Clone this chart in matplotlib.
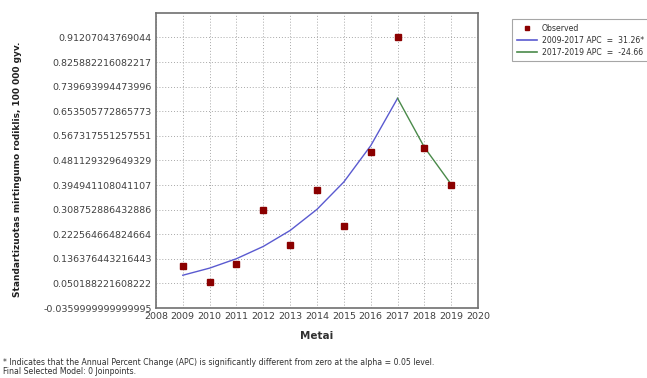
import matplotlib
matplotlib.use("Agg")
import matplotlib.pyplot as plt
from matplotlib.lines import Line2D

years = [2009, 2010, 2011, 2012, 2013, 2014, 2015, 2016, 2017, 2018, 2019]
observed = [0.112, 0.054, 0.118, 0.307, 0.184, 0.377, 0.251, 0.512, 0.912, 0.525, 0.395]

seg1_years = [2009, 2010, 2011, 2012, 2013, 2014, 2015, 2016, 2017]
seg1_fit = [0.079, 0.104, 0.137, 0.180, 0.236, 0.310, 0.406, 0.533, 0.699]
seg2_years = [2017, 2018, 2019]
seg2_fit = [0.699, 0.527, 0.397]

ytick_labels = ["-0.0359999999999995", "0.050188221608222", "0.136376443216443",
                "0.222564664824664", "0.308752886432886", "0.394941108041107",
                "0.481129329649329", "0.567317551257551", "0.653505772865773",
                "0.739693994473996", "0.825882216082217", "0.91207043769044"]
xticks = list(range(2008, 2021))

legend_labels = ["Observed", "2009-2017 APC  =  31.26*", "2017-2019 APC  =  -24.66"]

fig = plt.figure(figsize=(6.47, 3.78), dpi=100)
ax = fig.add_axes([0.241, 0.185, 0.498, 0.781])

yvals = [float(s) for s in ytick_labels]
step = yvals[1] - yvals[0]
ax.set_ylim(yvals[0], yvals[-1] + step)
ax.set_xlim(2008, 2020)
ax.set_yticks(yvals)
ax.set_yticklabels(ytick_labels)
ax.set_xticks(xticks)
ax.set_xticklabels([str(x) for x in xticks])
ax.tick_params(axis='both', length=0, labelsize=6.8, colors='#404040', pad=3)
ax.grid(True, linestyle=(0, (1, 2)), color='#a8a8a8', linewidth=0.7)
ax.set_axisbelow(True)
for sp in ax.spines.values():
    sp.set_color('#707070')
    sp.set_linewidth(1.2)

blue = '#5a5ad0'
green = '#4a8a4a'
red = '#8b0000'
ax.plot(seg1_years, seg1_fit, color=blue, lw=1.0)
ax.plot(seg2_years, seg2_fit, color=green, lw=1.0)
ax.plot(years, observed, linestyle='none', marker='s', markersize=4, color=red)

ax.set_xlabel("Metai", fontsize=7.5, fontweight='bold', color='#303030', labelpad=7)
fig.text(0.027, 0.553, "Standartizuotas mirtingumo rodiklis, 100 000 gyv.",
         rotation=90, fontsize=6.5, fontweight='bold', color='#202020',
         ha='center', va='center')

handles = [Line2D([], [], linestyle='none', marker='s', markersize=3, color=red),
           Line2D([], [], color=blue, lw=1.2),
           Line2D([], [], color=green, lw=1.2)]
leg = fig.legend(handles, legend_labels, loc='upper left',
                 bbox_to_anchor=(0.792, 0.950), fontsize=5.6, frameon=True,
                 fancybox=False, handlelength=2.6, borderpad=0.6,
                 labelspacing=0.4, handletextpad=0.6, borderaxespad=0)
leg.get_frame().set_edgecolor('#909090')
leg.get_frame().set_linewidth(0.8)
for t in leg.get_texts():
    t.set_color('#303030')

fig.text(0.005, 0.040,
         "* Indicates that the Annual Percent Change (APC) is significantly different from zero at the alpha = 0.05 level.",
         fontsize=5.6, color='#303030', ha='left', va='center')
fig.text(0.005, 0.016, "Final Selected Model: 0 Joinpoints.",
         fontsize=5.6, color='#303030', ha='left', va='center')

fig.savefig("out.png", dpi=100)
